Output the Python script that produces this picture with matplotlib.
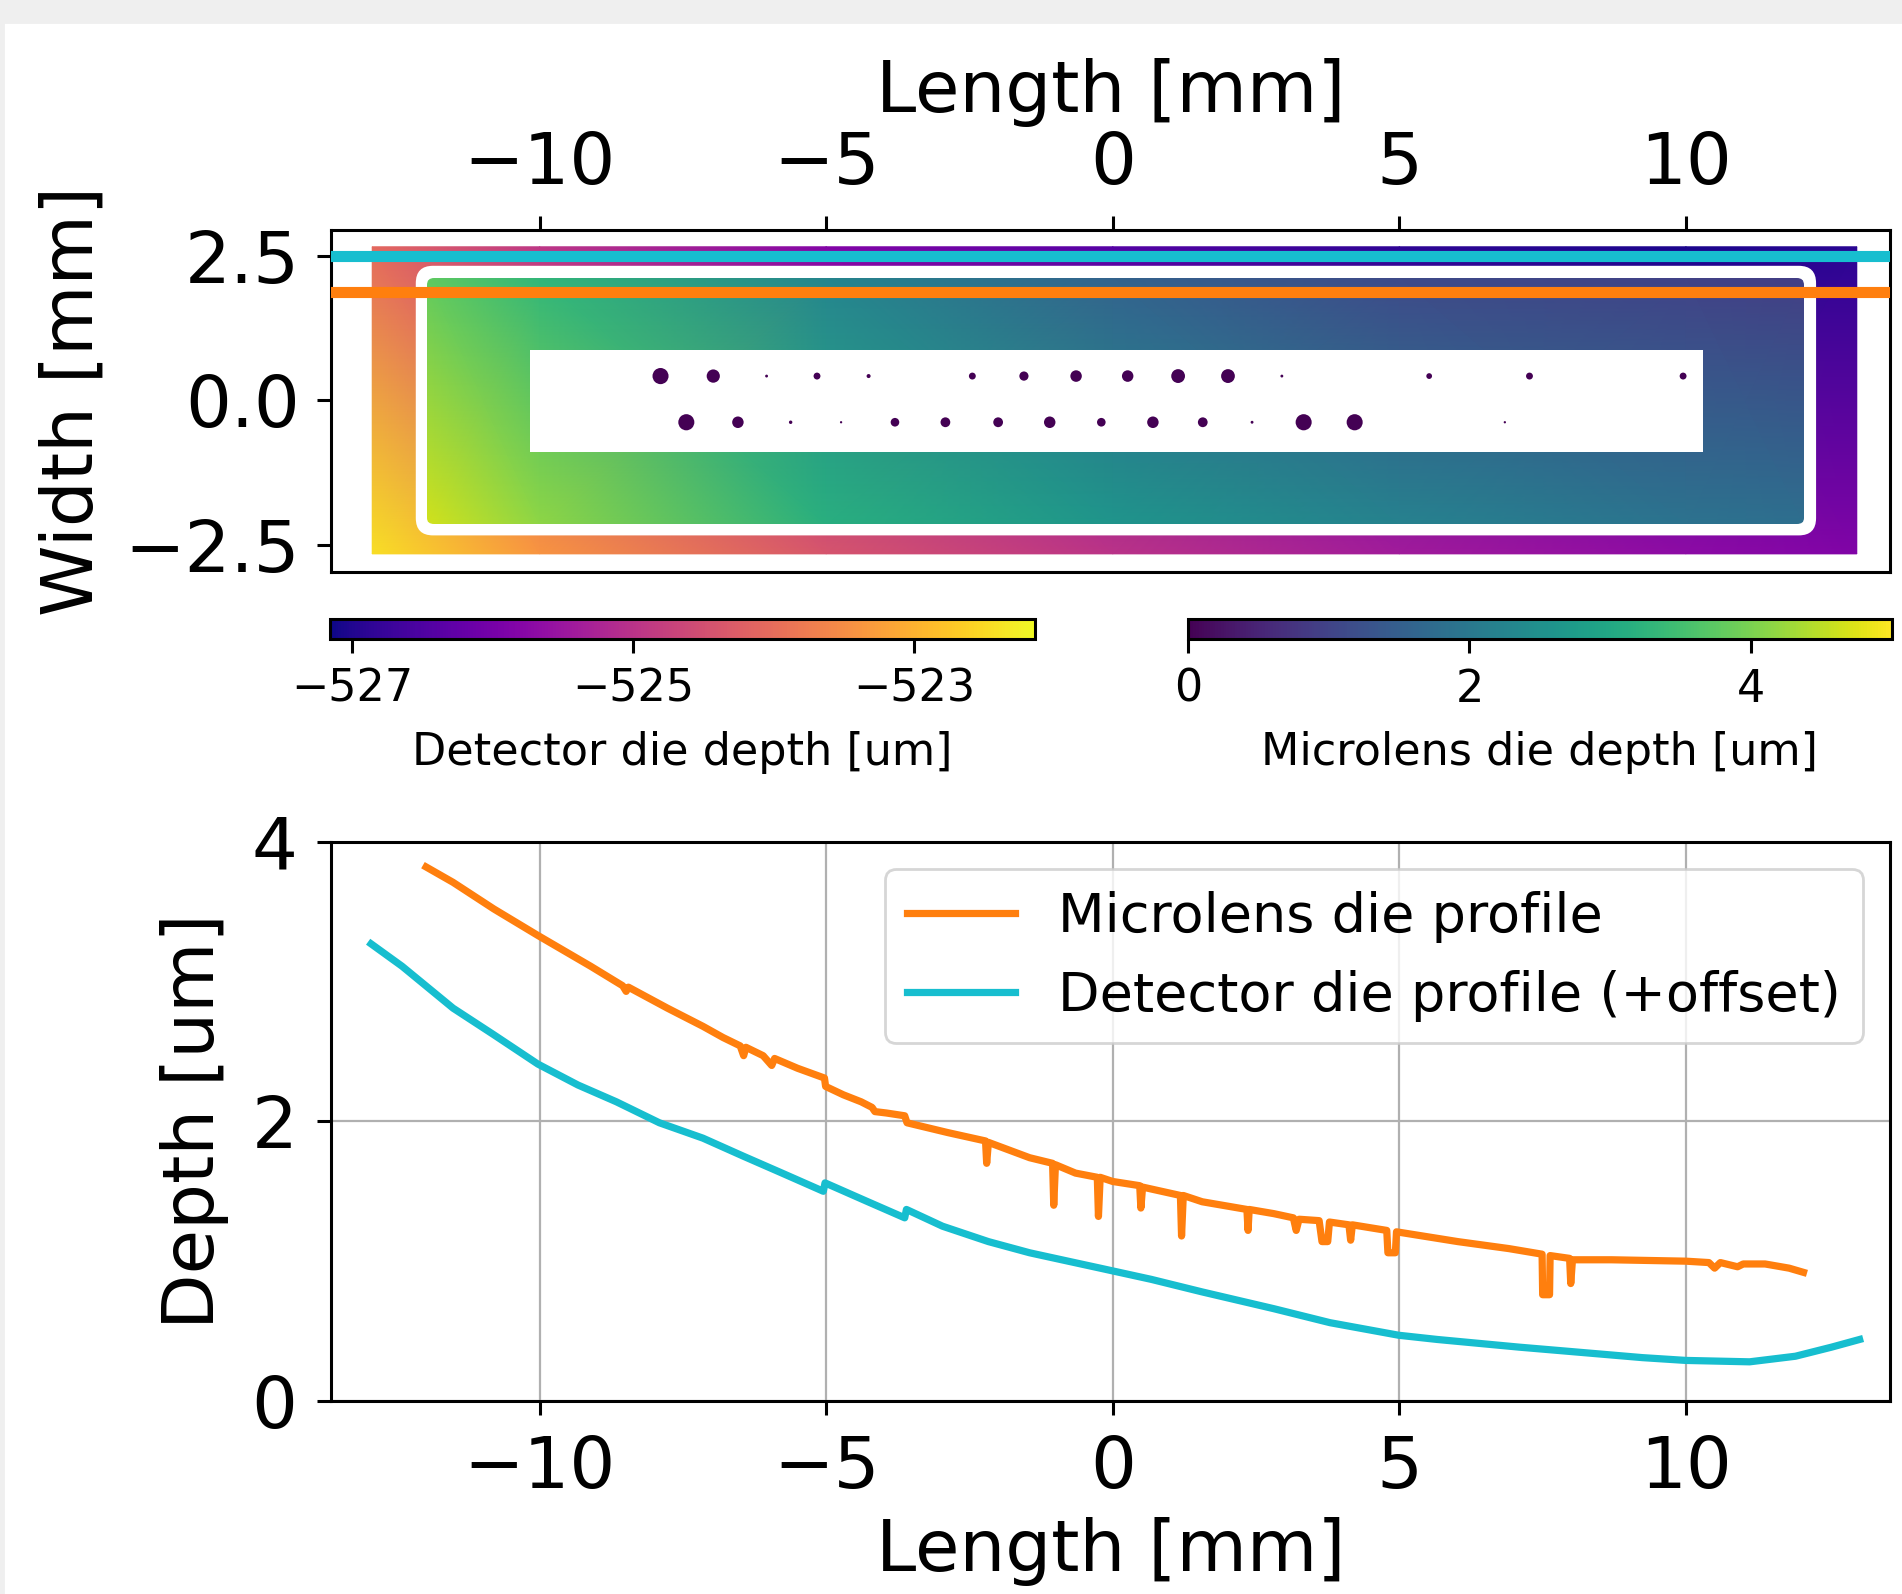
"""
Mapa de profundidad de los dies (detector + microlentes) y perfiles horizontales.
"""
import numpy as np
import matplotlib
matplotlib.use("Agg")
import matplotlib.pyplot as plt
from matplotlib.patches import Rectangle, FancyBboxPatch, Circle
from matplotlib.collections import PatchCollection
from matplotlib.colors import Normalize

# ---- perfiles (corte a lo largo de cada linea del mapa) ----
ml_x = [-11.98, -11.51, -10.80, -10.03, -9.11, -8.55, -8.49, -8.45, -7.77, -7.15,
        -6.80, -6.50, -6.44, -6.40, -6.10, -5.95, -5.90, -5.50, -5.03, -5.01,
        -4.70, -4.39, -4.20, -4.15, -3.95, -3.63, -3.59, -2.88, -2.22, -2.20,
        -2.17, -1.45, -1.05, -1.03, -1.00, -0.65, -0.27, -0.25, -0.22, 0.00,
        0.47, 0.49, 0.52, 1.18, 1.20, 1.23, 1.56, 2.34, 2.36, 2.38,
        2.81, 3.15, 3.20, 3.25, 3.60, 3.65, 3.75, 3.78, 4.12, 4.15,
        4.18, 4.78, 4.80, 4.93, 4.95, 6.02, 6.91, 7.49, 7.50, 7.62,
        7.63, 7.97, 7.99, 8.02, 8.70, 10.00, 10.40, 10.50, 10.60, 10.90,
        11.00, 11.38, 11.80, 12.05]
ml_y = [3.82, 3.71, 3.52, 3.33, 3.11, 2.97, 2.93, 2.96, 2.81, 2.68,
        2.60, 2.54, 2.47, 2.53, 2.47, 2.40, 2.45, 2.38, 2.31, 2.25,
        2.19, 2.14, 2.10, 2.07, 2.06, 2.04, 1.99, 1.92, 1.86, 1.70,
        1.85, 1.74, 1.70, 1.40, 1.69, 1.63, 1.60, 1.32, 1.60, 1.57,
        1.54, 1.38, 1.53, 1.47, 1.18, 1.47, 1.425, 1.37, 1.22, 1.37,
        1.34, 1.31, 1.22, 1.30, 1.29, 1.14, 1.14, 1.28, 1.26, 1.15,
        1.26, 1.22, 1.06, 1.06, 1.21, 1.14, 1.09, 1.05, 0.76, 0.76,
        1.04, 1.02, 0.84, 1.01, 1.01, 1.00, 0.99, 0.95, 0.99, 0.96,
        0.98, 0.98, 0.95, 0.92]

det_x = [-12.94, -12.40, -11.51, -10.80, -10.03, -9.33, -8.66, -7.91, -7.15, -6.44,
         -5.77, -5.05, -5.02, -4.30, -3.63, -3.60, -2.97, -2.17, -1.45, -0.78,
         -0.22, 0.67, 1.56, 2.81, 3.79, 4.99, 5.66, 7.09, 7.81, 9.24,
         10.00, 11.11, 11.91, 12.54, 13.03]
det_y = [3.27, 3.11, 2.81, 2.62, 2.41, 2.26, 2.14, 1.99, 1.88, 1.75,
         1.63, 1.50, 1.56, 1.43, 1.31, 1.37, 1.25, 1.14, 1.06, 1.00,
         0.95, 0.87, 0.78, 0.66, 0.56, 0.47, 0.44, 0.385, 0.36, 0.31,
         0.29, 0.28, 0.32, 0.385, 0.44]

# ---- mapa del die detector (valores en los bordes superior / inferior) ----
det_map_x = [-12.92, -10.0, -5.0, 0.0, 5.0, 10.0, 12.98]
det_map_y = [-2.66, 2.66]
det_map_bottom = [-522.45, -523.40, -524.40, -525.00, -525.40, -525.70, -525.85]
det_map_top = [-524.08, -524.94, -525.84, -526.42, -526.88, -527.06, -526.91]

# ---- mapa del die de microlentes ----
ml_map_x = [-11.97, -10.0, -5.0, 0.0, 5.0, 10.0, 12.06]
ml_map_y = [-2.15, 2.12]
ml_map_bottom = [4.65, 4.15, 3.15, 2.60, 2.20, 1.90, 1.80]
ml_map_top = [3.78, 3.30, 2.28, 1.57, 1.13, 0.98, 0.90]

# ---- contornos [x0, x1, y0, y1] en mm ----
det_gap = [-12.16, 12.27, -2.34, 2.33]
ml_box = [-11.97, 12.06, -2.15, 2.12]
hole_box = [-10.17, 10.30, -0.89, 0.88]

# ---- puntos de las microlentes dentro del hueco (x, y, diametro mm) ----
dot_x = [-7.89, -6.97, -6.04, -5.16, -4.26, -2.45, -1.55, -0.64, 0.26, 1.14,
         2.01, 2.95, 5.52, 7.27, 9.95,
         -7.44, -6.54, -5.62, -4.74, -3.80, -2.92, -2.00, -1.10, -0.20, 0.70,
         1.57, 2.43, 3.33, 4.22, 6.84]
dot_y = [0.42] * 15 + [-0.38] * 15
dot_d = [0.28, 0.23, 0.05, 0.12, 0.07, 0.12, 0.16, 0.20, 0.20, 0.24,
         0.24, 0.05, 0.10, 0.12, 0.12,
         0.28, 0.20, 0.06, 0.04, 0.15, 0.17, 0.17, 0.20, 0.15, 0.20,
         0.17, 0.05, 0.28, 0.28, 0.04]

line_det_y = 2.5
line_ml_y = 1.87

C_ORANGE = "#ff7f0e"
C_CYAN = "#17becf"

plt.rcParams["font.family"] = "DejaVu Sans"
plt.rcParams["axes.linewidth"] = 1.1

fig = plt.figure(figsize=(9.51, 7.97), dpi=200)
fig.patches.append(Rectangle((0, 0.986), 1, 0.014, transform=fig.transFigure,
                             color="#efefef", zorder=-10))
fig.patches.append(Rectangle((0, 0), 0.0016, 1, transform=fig.transFigure,
                             color="#efefef", zorder=-10))

FS = 26
FS_CB = 16
FS_LEG = 19.5

# ---------------- mapa superior ----------------
ax = fig.add_axes([0.1740, 0.6413, 0.8197, 0.2144])
det_norm = Normalize(-527.16, -522.14)
ml_norm = Normalize(0, 5)

X, Y = np.meshgrid(det_map_x, det_map_y)
det_mesh = ax.pcolormesh(X, Y, np.array([det_map_bottom, det_map_top]),
                         shading="gouraud", cmap="plasma", norm=det_norm, zorder=1)

ax.add_patch(FancyBboxPatch((det_gap[0], det_gap[2]), det_gap[1] - det_gap[0],
                            det_gap[3] - det_gap[2],
                            boxstyle="round,pad=0,rounding_size=0.3",
                            fc="white", ec="none", zorder=2))

X, Y = np.meshgrid(ml_map_x, ml_map_y)
ml_mesh = ax.pcolormesh(X, Y, np.array([ml_map_bottom, ml_map_top]),
                        shading="gouraud", cmap="viridis", norm=ml_norm, zorder=3)
clip = FancyBboxPatch((ml_box[0], ml_box[2]), ml_box[1] - ml_box[0],
                      ml_box[3] - ml_box[2],
                      boxstyle="round,pad=0,rounding_size=0.12",
                      fc="none", ec="none")
ax.add_patch(clip)
ml_mesh.set_clip_path(clip)

ax.add_patch(Rectangle((hole_box[0], hole_box[2]), hole_box[1] - hole_box[0],
                       hole_box[3] - hole_box[2], fc="white", ec="none", zorder=4))

dots = PatchCollection([Circle((x, y), d / 2) for x, y, d in zip(dot_x, dot_y, dot_d)],
                       cmap="viridis", norm=ml_norm, edgecolor="none", zorder=5)
dots.set_array(np.zeros(len(dot_x)))
ax.add_collection(dots)

ax.axhline(line_det_y, color=C_CYAN, lw=4.0, zorder=6)
ax.axhline(line_ml_y, color=C_ORANGE, lw=4.0, zorder=6)

ax.set_xlim(-13.64, 13.56)
ax.set_ylim(-2.97, 2.95)
ax.set_xticks([-10, -5, 0, 5, 10])
ax.set_yticks([-2.5, 0, 2.5])
ax.xaxis.tick_top()
ax.xaxis.set_label_position("top")
ax.tick_params(labelsize=FS, length=5, width=1.1, pad=6.3)
ax.set_xlabel("Length [mm]", fontsize=FS, labelpad=6.2)
ax.set_ylabel("Width [mm]", fontsize=FS, labelpad=6)

# ---------------- barras de color ----------------
cax1 = fig.add_axes([0.1735, 0.5991, 0.3707, 0.01255])
cb1 = fig.colorbar(det_mesh, cax=cax1, orientation="horizontal")
cb1.set_ticks([-527, -525, -523])
cb1.set_label("Detector die depth [um]", fontsize=FS_CB, labelpad=7.5)
cax1.tick_params(labelsize=FS_CB, length=5, width=1.1, pad=5.3)

cax2 = fig.add_axes([0.6246, 0.5991, 0.3700, 0.01255])
cb2 = fig.colorbar(ml_mesh, cax=cax2, orientation="horizontal")
cb2.set_ticks([0, 2, 4])
cb2.set_label("Microlens die depth [um]", fontsize=FS_CB, labelpad=7.5)
cax2.tick_params(labelsize=FS_CB, length=5, width=1.1, pad=5.3)

# ---------------- perfiles ----------------
ax2 = fig.add_axes([0.1740, 0.1211, 0.8197, 0.3508])
ax2.plot(ml_x, ml_y, color=C_ORANGE, lw=2.6, label="Microlens die profile")
ax2.plot(det_x, det_y, color=C_CYAN, lw=2.6, label="Detector die profile (+offset)")
ax2.set_xlim(-13.64, 13.56)
ax2.set_ylim(0, 4)
ax2.set_xticks([-10, -5, 0, 5, 10])
ax2.set_yticks([0, 2, 4])
ax2.grid(True)
ax2.tick_params(labelsize=FS, length=5, width=1.1, pad=7)
ax2.set_xlabel("Length [mm]", fontsize=FS, labelpad=5)
ax2.set_ylabel("Depth [um]", fontsize=FS, labelpad=8)
ax2.legend(fontsize=FS_LEG, loc="upper right")

fig.savefig("out.png", dpi=200)
